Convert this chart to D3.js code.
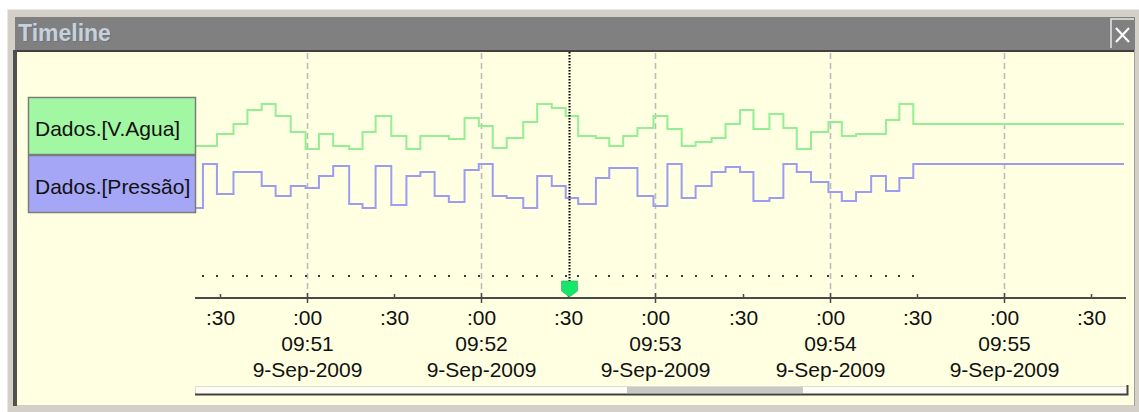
<!DOCTYPE html>
<html>
<head>
<meta charset="utf-8">
<script src="https://cdn.jsdelivr.net/npm/d3@7"></script>
<style>
  html, body { margin: 0; padding: 0; background: #fff; }
  svg { display: block; font-family: "Liberation Sans", Arial, sans-serif; }
</style>
</head>
<body>
<svg id="canvas"></svg>
<script>
// Series names (legend)
const seriesNames = ["Dados.[V.Agua]", "Dados.[Pressão]"];

// Sample times, 9-Sep-2009
const sampleTimes = [
  "09:50:19.5", "09:50:24.3", "09:50:29.1", "09:50:34.8", "09:50:39.6", "09:50:44.5",
  "09:50:49.3", "09:50:54.5", "09:50:59.6", "09:51:04.2", "09:51:09.1", "09:51:14.6",
  "09:51:19.2", "09:51:23.7", "09:51:29.1", "09:51:34.3", "09:51:39.1", "09:51:44.0",
  "09:51:48.9", "09:51:54.3", "09:51:59.2", "09:52:04.0", "09:52:08.8", "09:52:14.5",
  "09:52:19.3", "09:52:24.3", "09:52:29.1", "09:52:33.4", "09:52:39.5", "09:52:44.1",
  "09:52:48.9", "09:52:53.8", "09:52:59.3", "09:53:04.1", "09:53:09.0", "09:53:13.8",
  "09:53:19.3", "09:53:24.1", "09:53:29.1", "09:53:33.7", "09:53:39.2", "09:53:44.0",
  "09:53:48.6", "09:53:53.5", "09:53:59.5", "09:54:04.1", "09:54:09.0", "09:54:14.2",
  "09:54:19.3", "09:54:23.9", "09:54:28.7"
];

// V.Agua values (arbitrary units, no y axis shown)
const aguaValues = [
  69, 69, 81, 91, 105, 111, 99, 83, 66, 81, 69, 66, 83, 99, 79, 66, 79, 79,
  76, 97, 89, 67, 77, 93, 111, 107, 99, 79, 77, 69, 79, 87, 99, 86, 69, 73,
  77, 91, 105, 86, 101, 87, 66, 83, 93, 79, 81, 81, 95, 111, 91
];

// Pressão values
const pressaoValues = [
  7, 51, 21, 43, 43, 29, 19, 29, 27, 39, 49, 11, 7, 49, 10, 39, 43, 19,
  13, 45, 51, 19, 17, 7, 39, 29, 17, 11, 37, 47, 47, 19, 9, 51, 17, 29,
  43, 48, 43, 14, 17, 51, 43, 33, 23, 14, 23, 39, 24, 37, 51
];

// Visible time window and the cursor
const viewStart = "09:50:21.9";
const viewEnd = "09:55:41.2";
const cursorTime = "09:52:30.3";

const width = 1139;
const height = 412;

const parseT = (s) => {
  const [h, m, sec] = s.split(":").map(Number);
  return new Date(2009, 8, 9, h, m, 0, Math.round(sec * 1000));
};

const svg = d3.select("#canvas")
  .attr("width", width)
  .attr("height", height);

// ---- window chrome ----
svg.append("rect").attr("x", 7).attr("y", 9).attr("width", 1132).attr("height", 403).attr("fill", "#d4d0c8");
svg.append("line").attr("x1", 7).attr("x2", 1139).attr("y1", 9.5).attr("y2", 9.5).attr("stroke", "#ebe9e4");
svg.append("line").attr("x1", 7.5).attr("x2", 7.5).attr("y1", 9).attr("y2", 412).attr("stroke", "#ebe9e4");
svg.append("rect").attr("x", 15).attr("y", 17).attr("width", 1120).attr("height", 33).attr("fill", "#808080");
svg.append("rect").attr("x", 13).attr("y", 50).attr("width", 1122).attr("height", 2).attr("fill", "#404040");
svg.append("rect").attr("x", 13).attr("y", 50).attr("width", 4).attr("height", 356).attr("fill", "#505050");
svg.append("rect").attr("x", 17).attr("y", 52).attr("width", 1117).attr("height", 353).attr("fill", "#ffffe1");
svg.append("rect").attr("x", 1134).attr("y", 50).attr("width", 1).attr("height", 356).attr("fill", "#a0a0a0");

// title
svg.append("text").attr("x", 19).attr("y", 42)
  .attr("font-size", 23).attr("font-weight", "bold").attr("fill", "#6a7480")
  .text("Timeline");
svg.append("text").attr("x", 18).attr("y", 41)
  .attr("font-size", 23).attr("font-weight", "bold").attr("fill", "#c8d0da")
  .text("Timeline");

// close button
const btn = svg.append("g");
btn.append("rect").attr("x", 1110).attr("y", 18).attr("width", 25).attr("height", 31).attr("fill", "#808080");
btn.append("path").attr("d", "M1111,48V19H1134").attr("fill", "none").attr("stroke", "#e8e8e8").attr("stroke-width", 1.5);
btn.append("path").attr("d", "M1116,28L1129,42M1129,28L1116,42").attr("stroke", "#ffffff").attr("stroke-width", 2.2);

// ---- scales ----
const x = d3.scaleTime()
  .domain([parseT(viewStart), parseT(viewEnd)])
  .range([196, 1124]);

const y = d3.scaleLinear()
  .domain([0, 120])
  .range([215, 95]);

const axisY = 298;

// gridlines at whole minutes
const minuteTicks = x.ticks(d3.timeMinute.every(1));
svg.append("g").selectAll("line")
  .data(minuteTicks)
  .join("line")
  .attr("x1", d => Math.round(x(d)) + 0.5)
  .attr("x2", d => Math.round(x(d)) + 0.5)
  .attr("y1", 53)
  .attr("y2", axisY)
  .attr("stroke", "#bcbcbc")
  .attr("stroke-width", 1.6)
  .attr("stroke-dasharray", "6,4");

// ---- series ----
const times = sampleTimes.map(parseT);
const series = [
  { name: seriesNames[0], values: aguaValues, color: "#93ef93", fill: "#a2f7a2" },
  { name: seriesNames[1], values: pressaoValues, color: "#9c9cf4", fill: "#a6a6f7" }
];

svg.append("clipPath").attr("id", "plotClip")
  .append("rect").attr("x", 196).attr("y", 52).attr("width", 928).attr("height", 353);

const line = d3.line()
  .x(d => x(d.t))
  .y(d => y(d.v))
  .curve(d3.curveStepAfter);

svg.append("g").attr("clip-path", "url(#plotClip)")
  .selectAll("path")
  .data(series)
  .join("path")
  .attr("fill", "none")
  .attr("stroke", d => d.color)
  .attr("stroke-width", 2)
  .attr("d", d => {
    const pts = times.map((t, i) => ({ t: t, v: d.values[i] }));
    // hold the last value to the end of the window
    pts.push({ t: x.domain()[1], v: d.values[d.values.length - 1] });
    return line(pts);
  });

// sample markers row
svg.append("g").attr("clip-path", "url(#plotClip)")
  .selectAll("rect")
  .data(times)
  .join("rect")
  .attr("x", d => Math.round(x(d)) - 1)
  .attr("y", 275)
  .attr("width", 2)
  .attr("height", 2)
  .attr("fill", "#3a3a3a");

// legend
const legend = svg.append("g");
series.forEach((s, i) => {
  const top = 97 + i * 58;
  legend.append("rect")
    .attr("x", 28.5).attr("y", top + 0.5)
    .attr("width", 167).attr("height", 57)
    .attr("fill", s.fill)
    .attr("stroke", "#7c7c7c")
    .attr("stroke-width", 1.5);
  legend.append("text")
    .attr("x", 35).attr("y", top + 39)
    .attr("font-size", 21)
    .attr("fill", "#111")
    .text(s.name);
});

// ---- time axis ----
svg.append("line")
  .attr("x1", 195).attr("x2", 1126)
  .attr("y1", axisY).attr("y2", axisY)
  .attr("stroke", "#4a4a4a").attr("stroke-width", 2);

const halfTicks = x.ticks(d3.timeSecond.every(30));
const fmtMin = d3.timeFormat("%H:%M");
const fmtDate = (d) => d.getDate() + "-" + d3.timeFormat("%b-%Y")(d);

const tickG = svg.append("g").selectAll("g")
  .data(halfTicks)
  .join("g")
  .attr("transform", d => `translate(${Math.round(x(d)) + 0.5},0)`);

tickG.append("line")
  .attr("y1", d => d.getSeconds() === 0 ? axisY - 5 : axisY - 4)
  .attr("y2", d => d.getSeconds() === 0 ? axisY + 5 : axisY)
  .attr("stroke", "#4a4a4a").attr("stroke-width", 1.5);

const label = tickG.append("text")
  .attr("text-anchor", "middle")
  .attr("font-size", 21)
  .attr("fill", "#111");

label.append("tspan").attr("x", 0).attr("y", 325)
  .text(d => d.getSeconds() === 0 ? ":00" : ":30");
label.filter(d => d.getSeconds() === 0).append("tspan").attr("x", 0).attr("y", 351)
  .text(d => fmtMin(d));
label.filter(d => d.getSeconds() === 0).append("tspan").attr("x", 0).attr("y", 377)
  .text(d => fmtDate(d));

// cursor
const cx = Math.round(x(parseT(cursorTime))) + 0.5;
svg.append("line")
  .attr("x1", cx).attr("x2", cx)
  .attr("y1", 52).attr("y2", 283)
  .attr("stroke", "#000").attr("stroke-width", 2)
  .attr("stroke-dasharray", "1.5,1.5");
svg.append("path")
  .attr("d", `M${cx - 8},281H${cx + 8}V291L${cx},297L${cx - 8},291Z`)
  .attr("fill", "#14e86a")
  .attr("stroke", "#3c9a60")
  .attr("stroke-width", 0.6);

// scrollbar
svg.append("rect").attr("x", 195).attr("y", 386).attr("width", 932).attr("height", 8)
  .attr("fill", "#fdfdf6");
svg.append("path").attr("d", "M195.5,394V386.5H1127").attr("fill", "none").attr("stroke", "#dcdcd4");
svg.append("path").attr("d", "M195,394.5H1127.5V385").attr("fill", "none").attr("stroke", "#404040").attr("stroke-width", 2);
svg.append("rect").attr("x", 627).attr("y", 387).attr("width", 176).attr("height", 6).attr("fill", "#c8c8c4");
</script>
</body>
</html>
